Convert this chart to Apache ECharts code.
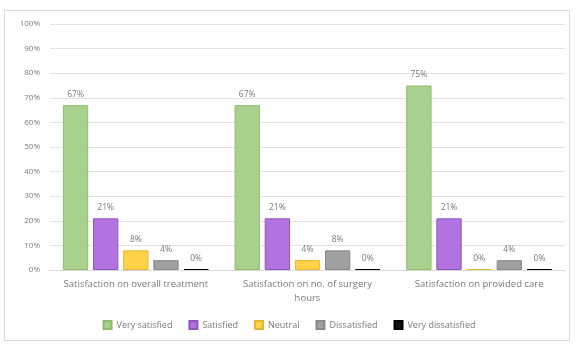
<!DOCTYPE html>
<html>
<head>
<meta charset="utf-8">
<script src="https://cdn.jsdelivr.net/npm/echarts@6/dist/echarts.min.js"></script>
<style>
html,body{margin:0;padding:0;background:#fff;}
#c{width:578px;height:344px;}
</style>
</head>
<body>
<div id="c"></div>
<script>
const categories = ["Satisfaction on overall treatment", "Satisfaction on no. of surgery\nhours", "Satisfaction on provided care"];
const seriesNames = ["Very satisfied", "Satisfied", "Neutral", "Dissatisfied", "Very dissatisfied"];
const verySatisfied = [67, 67, 75];
const satisfied = [21, 21, 21];
const neutral = [8, 4, 0];
const dissatisfied = [4, 8, 4];
const veryDissatisfied = [0, 0, 0];
const yTicks = [0, 10, 20, 30, 40, 50, 60, 70, 80, 90, 100];

const colors = ["#a9d18e", "#b273e0", "#ffd24a", "#a0a0a0", "#111111"];
const borders = ["#8dbb6e", "#8e55c0", "#e6b830", "#888888", "#000000"];
const values = [verySatisfied, satisfied, neutral, dissatisfied, veryDissatisfied];

const chart = echarts.init(document.getElementById('c'));
const font = "'Open Sans', 'Liberation Sans', sans-serif";
chart.setOption({
  animation: false,
  textStyle: {fontFamily: font},
  graphic: [{
    type: 'rect', shape: {x: 4.5, y: 10.5, width: 565, height: 330},
    style: {fill: 'none', stroke: '#d9d9d9', lineWidth: 1}, silent: true, z: -1
  }],
  grid: {left: 50, right: 13, top: 24, bottom: 74, containLabel: false},
  legend: {
    bottom: 9, left: 'center', itemWidth: 8, itemHeight: 8, itemGap: 16,
    icon: 'rect',
    textStyle: {fontSize: 9, color: '#7a7a7a', fontFamily: font},
    data: seriesNames
  },
  xAxis: {
    type: 'category', data: categories,
    axisLine: {lineStyle: {color: '#d9d9d9'}},
    axisTick: {show: false},
    axisLabel: {fontSize: 9.5, color: '#7a7a7a', margin: 7, lineHeight: 14, interval: 0}
  },
  yAxis: {
    type: 'value', min: yTicks[0], max: yTicks[yTicks.length - 1], interval: 10,
    axisLine: {show: false}, axisTick: {show: false},
    axisLabel: {formatter: '{value}%', fontSize: 8, color: '#7a7a7a', margin: 10},
    splitLine: {lineStyle: {color: '#e3e3e3'}}
  },
  series: seriesNames.map((name, i) => ({
    name: name, type: 'bar', data: values[i],
    barGap: '19%', barCategoryGap: '15%', barMinHeight: 1,
    itemStyle: {color: colors[i], borderColor: borders[i], borderWidth: 1},
    label: {show: true, position: 'top', formatter: '{c}%', fontSize: 8.5, color: '#7a7a7a', distance: 6}
  }))
});
</script>
</body>
</html>
